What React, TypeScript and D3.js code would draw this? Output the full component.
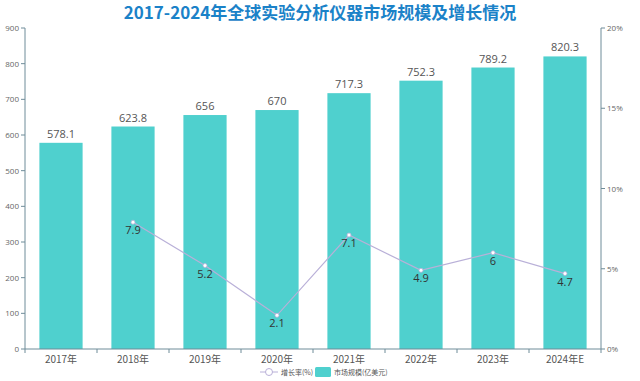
import React from "react";
import * as d3 from "d3";

const categories = ["2017年", "2018年", "2019年", "2020年", "2021年", "2022年", "2023年", "2024年E"];
const marketSize = [578.1, 623.8, 656, 670, 717.3, 752.3, 789.2, 820.3];
const growthRate: (number | null)[] = [null, 7.9, 5.2, 2.1, 7.1, 4.9, 6, 4.7];
const leftTicks = [0, 100, 200, 300, 400, 500, 600, 700, 800, 900];
const rightTicks = [0, 5, 10, 15, 20];

const W = 640, H = 381;
const m = { left: 25, right: 39, top: 28, bottom: 32 };
const BAR = "#4fd0ce";
const LINE = "#b9b0d8";
const AXIS = "#6f8c99";
const FONT = "'Open Sans', 'Noto Sans CJK SC', sans-serif";

export default function App() {
  const x = d3.scaleBand<string>().domain(categories).range([m.left, W - m.right]).paddingInner(0.4).paddingOuter(0.2);
  const xb = d3.scaleBand<string>().domain(categories).range([m.left, W - m.right]);
  const y = d3.scaleLinear().domain([0, 900]).range([H - m.bottom, m.top]);
  const y2 = d3.scaleLinear().domain([0, 20]).range([H - m.bottom, m.top]);
  const base = H - m.bottom;
  const pts = categories
    .map((c, i) => ({ c, v: growthRate[i] }))
    .filter((d) => d.v !== null) as { c: string; v: number }[];
  const line = d3
    .line<{ c: string; v: number }>()
    .x((d) => (xb(d.c) as number) + xb.bandwidth() / 2)
    .y((d) => y2(d.v));
  const right = W - m.right;
  return (
    <svg width={W} height={H} style={{ position: "absolute", left: 0, top: 0, background: "#fff" }} fontFamily={FONT}>
      <text x={W / 2} y={19} textAnchor="middle" fontSize={17} fontWeight="bold" fill="#1b82c8"
        fontFamily="'Noto Sans CJK SC', sans-serif">2017-2024年全球实验分析仪器市场规模及增长情况</text>
      {/* bars */}
      {categories.map((c, i) => (
        <rect key={c} x={x(c)} y={y(marketSize[i])} width={x.bandwidth()} height={base - y(marketSize[i])} fill={BAR} />
      ))}
      {categories.map((c, i) => (
        <text key={"l" + c} x={(x(c) as number) + x.bandwidth() / 2} y={y(marketSize[i]) - 5} textAnchor="middle"
          fontSize={11} fill="#555">{marketSize[i]}</text>
      ))}
      {/* left axis */}
      <line x1={m.left} x2={m.left} y1={m.top} y2={base} stroke={AXIS} />
      {leftTicks.map((t) => (
        <g key={"lt" + t}>
          <line x1={m.left - 4} x2={m.left} y1={y(t)} y2={y(t)} stroke={AXIS} />
          <text x={m.left - 6} y={y(t) + 3} textAnchor="end" fontSize={8} fill="#666">{t}</text>
        </g>
      ))}
      {/* right axis */}
      <line x1={right} x2={right} y1={m.top} y2={base} stroke={AXIS} />
      {rightTicks.map((t) => (
        <g key={"rt" + t}>
          <line x1={right} x2={right + 4} y1={y2(t)} y2={y2(t)} stroke={AXIS} />
          <text x={right + 6} y={y2(t) + 3} textAnchor="start" fontSize={8} fill="#666">{t}%</text>
        </g>
      ))}
      {/* x axis */}
      <line x1={m.left} x2={right} y1={base} y2={base} stroke={AXIS} />
      {categories.map((c) => (
        <line key={"xt" + c} x1={(xb(c) as number)} x2={(xb(c) as number)} y1={base} y2={base + 4} stroke={AXIS} />
      ))}
      <line x1={right} x2={right} y1={base} y2={base + 4} stroke={AXIS} />
      {categories.map((c) => (
        <text key={"xl" + c} x={(xb(c) as number) + xb.bandwidth() / 2} y={base + 14} textAnchor="middle" fontSize={10} fill="#555"
          fontFamily="'Noto Sans CJK SC', sans-serif">{c}</text>
      ))}
      {/* line */}
      <path d={line(pts) || ""} fill="none" stroke={LINE} strokeWidth={1.2} />
      {pts.map((d) => (
        <circle key={"p" + d.c} cx={(xb(d.c) as number) + xb.bandwidth() / 2} cy={y2(d.v)} r={2} fill="#fff" stroke={LINE} strokeWidth={0.8} />
      ))}
      {pts.map((d) => (
        <text key={"pl" + d.c} x={(xb(d.c) as number) + xb.bandwidth() / 2} y={y2(d.v) + 12} textAnchor="middle" fontSize={11} fill="#333">{d.v}</text>
      ))}
      {/* legend */}
      <g fontFamily="'Noto Sans CJK SC', sans-serif">
        <line x1={260} x2={278} y1={372} y2={372} stroke={LINE} />
        <circle cx={269} cy={372} r={3.5} fill="#fff" stroke={LINE} />
        <text x={281} y={374.5} fontSize={7} fill="#555">增长率(%)</text>
        <rect x={315} y={367} width={16} height={10} fill={BAR} rx={1.5} />
        <text x={334} y={374.5} fontSize={7} fill="#555">市场规模(亿美元)</text>
      </g>
    </svg>
  );
}
